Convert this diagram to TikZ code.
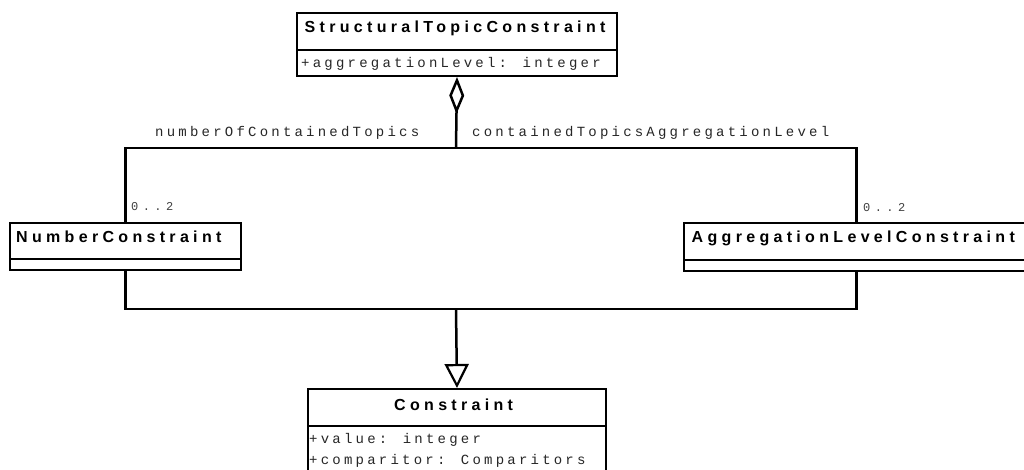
\documentclass[tikz,border=0pt]{standalone}
\usepackage{fontspec}
\newfontfamily\titlefont{Liberation Sans}[LetterSpace=27]
\newfontfamily\attrfont{Liberation Mono}[LetterSpace=23,WordSpace=1]
\newfontfamily\multfont{Liberation Mono}[LetterSpace=37]
\usetikzlibrary{arrows.meta}

\begin{document}
\begin{tikzpicture}[x=1pt,y=-1pt,
  box/.style={draw, line width=2pt, inner sep=0pt, anchor=north west},
  ttl/.style={anchor=base west, inner sep=0pt,
    font=\titlefont\bfseries\fontsize{16}{19}\selectfont},
  attr/.style={anchor=base west, inner sep=0pt,
    font=\attrfont\fontsize{14}{16}\selectfont, text=black!85},
  mult/.style={anchor=base west, inner sep=0pt,
    font=\multfont\fontsize{12}{14}\selectfont, text=black!75},
  link/.style={line width=2.5pt},
]
\useasboundingbox (0,0) rectangle (1024,470);
\clip (0,0) rectangle (1024,470);

% class compartments
\node[box, minimum width=320pt, minimum height=37pt] (stc)  at (296,12)  {};
\node[box, minimum width=320pt, minimum height=26pt] (stcA) at (296,49)  {};
\node[box, minimum width=231pt, minimum height=36pt] (nc)   at (9,222)   {};
\node[box, minimum width=231pt, minimum height=11pt] (ncA)  at (9,258)   {};
\node[box, minimum width=345pt, minimum height=37pt] (alc)  at (683,222) {};
\node[box, minimum width=345pt, minimum height=11pt] (alcA) at (683,259) {};
\node[box, minimum width=298pt, minimum height=37pt] (c)    at (307,388) {};
\node[box, minimum width=298pt, minimum height=60pt] (cA)   at (307,425) {};

% class names
\node[ttl] (stcT) at (304.5,33) {StructuralTopicConstraint};
\node[ttl] (ncT)  at (16,243)   {NumberConstraint};
\node[ttl] (alcT) at (691.5,243) {AggregationLevelConstraint};
\node[ttl] (cT)   at (394,410)  {Constraint};

% attributes
\node[attr] (stcA1) at (301,68)  {+aggregationLevel: integer};
\node[attr] (cA1)   at (309,443) {+value: integer};
\node[attr] (cA2)   at (309,464) {+comparitor: Comparitors};

% junction points of the connectors
\coordinate (agg) at (456,148);
\coordinate (gen) at (456,309);

% aggregation from StructuralTopicConstraint
\draw[link, {Diamond[open, length=37pt, width=15pt, line width=2.5pt]}-] (stcA.south) -- (agg);
\draw[link] (nc.north) |- (agg) -| (alc.north);

% generalization to Constraint
\draw[link] (ncA.south) |- (gen) -| (alcA.south);
\draw[link, -{Triangle[open, length=24pt, width=24pt, line width=2.2pt]}] (gen) -- (c.north);

% role names and multiplicities
\node[attr] (roleL) at (155,137) {numberOfContainedTopics};
\node[attr] (roleR) at (472,137) {containedTopicsAggregationLevel};
\node[mult] (multL) at (131,211) {0..2};
\node[mult] (multR) at (863,212) {0..2};
\end{tikzpicture}
\end{document}
